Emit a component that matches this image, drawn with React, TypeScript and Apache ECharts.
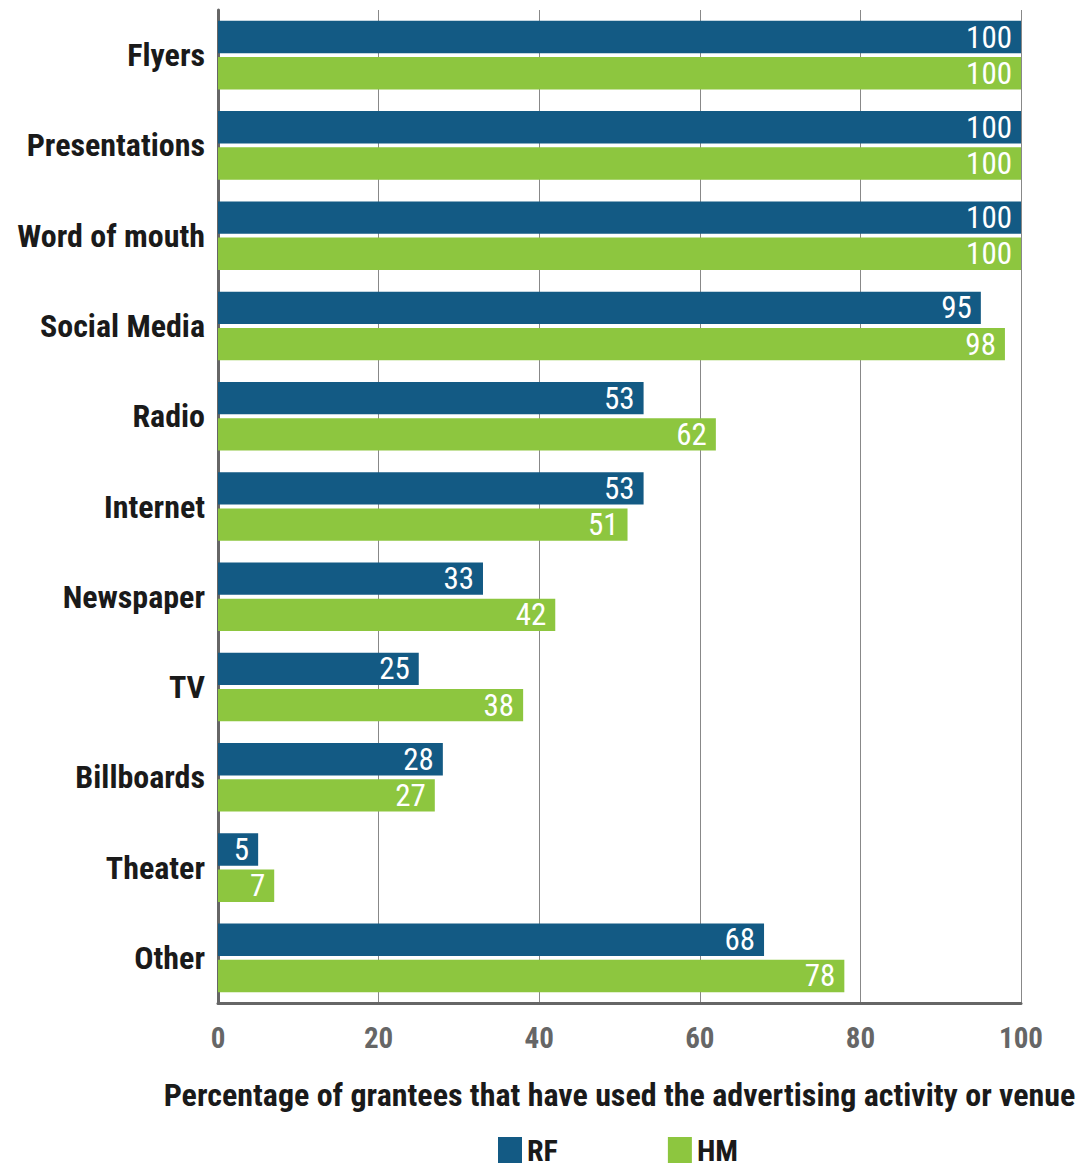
import React, { useEffect, useRef } from "react";
import * as echarts from "echarts";

const categories = ["Flyers", "Presentations", "Word of mouth", "Social Media", "Radio", "Internet", "Newspaper", "TV", "Billboards", "Theater", "Other"];
const rfValues = [100, 100, 100, 95, 53, 53, 33, 25, 28, 5, 68];
const hmValues = [100, 100, 100, 98, 62, 51, 42, 38, 27, 7, 78];
const xTicks = [0, 20, 40, 60, 80, 100];
const axisTitle = "Percentage of grantees that have used the advertising activity or venue";

const FONT = '"Liberation Sans Narrow", "Arial Narrow", "Roboto Condensed", "Liberation Sans", sans-serif';

export default function App() {
  const ref = useRef<HTMLDivElement>(null);
  useEffect(() => {
    if (!ref.current) return;
    const chart = echarts.init(ref.current, null, { renderer: "svg" });
    const labelStyle = {
      show: true,
      position: "insideRight" as const,
      color: "#ffffff",
      fontSize: 31,
      fontFamily: FONT,
      distance: 9,
    };
    chart.setOption({
      animation: false,
      textStyle: { fontFamily: FONT },
      grid: { left: 218, right: 66, top: 10, bottom: 168, containLabel: false },
      legend: {
        left: 498,
        top: 1135,
        padding: 0,
        itemWidth: 24,
        itemHeight: 26,
        itemGap: 110,
        icon: "rect",
        textStyle: { fontSize: 30, fontWeight: "bold", color: "#1a1a1a", fontFamily: FONT, lineHeight: 26 },
        data: ["RF", "HM"],
      },
      xAxis: {
        type: "value",
        min: 0,
        max: 100,
        interval: 20,
        axisLine: { show: true, lineStyle: { color: "#666666", width: 3 } },
        axisTick: { show: false },
        splitLine: { show: true, lineStyle: { color: "#888888", width: 1 } },
        axisLabel: {
          fontSize: 29,
          fontWeight: "bold",
          color: "#666666",
          margin: 20,
          fontFamily: FONT,
          formatter: (v: number) => (xTicks.includes(v) ? String(v) : ""),
        },
        name: axisTitle,
        nameLocation: "middle",
        nameGap: 76,
        nameTextStyle: { fontSize: 32, fontWeight: "bold", color: "#1a1a1a", fontFamily: FONT },
      },
      yAxis: {
        type: "category",
        data: categories,
        inverse: true,
        axisLine: { show: true, lineStyle: { color: "#666666", width: 3 } },
        axisTick: { show: false },
        axisLabel: {
          fontSize: 32,
          fontWeight: "bold",
          color: "#1a1a1a",
          margin: 13,
          fontFamily: FONT,
          padding: [4, 0, 0, 0],
        },
      },
      series: [
        {
          name: "RF",
          type: "bar",
          data: rfValues,
          itemStyle: { color: "#135A84" },
          barGap: "12%",
          barCategoryGap: "24%",
          label: labelStyle,
        },
        {
          name: "HM",
          type: "bar",
          data: hmValues,
          itemStyle: { color: "#8DC63F" },
          label: labelStyle,
        },
      ],
    });
    return () => chart.dispose();
  }, []);
  return <div ref={ref} style={{ width: 1087, height: 1171, position: "absolute", left: 0, top: 0 }} />;
}
